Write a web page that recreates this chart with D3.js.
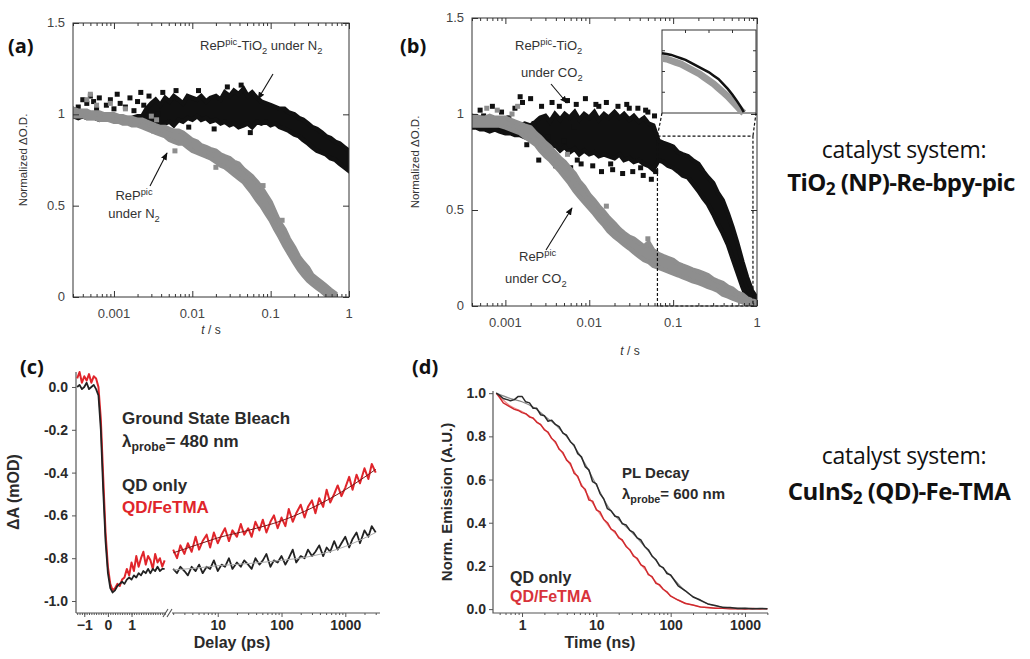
<!DOCTYPE html>
<html>
<head>
<meta charset="utf-8">
<script src="https://cdn.jsdelivr.net/npm/d3@7"></script>
<style>
body { margin: 0; background: #fff; }
svg { display: block; }
</style>
</head>
<body>
<svg width="1030" height="659"></svg>
<script>
// ---- panel (a): [t, low, high] bands ----
var aBlack = [[0.0003,0.99,1.03],[0.00035,0.98,1.02],[0.0004,0.99,1.01],[0.00045,0.98,1.01],[0.0005,0.98,1.0],[0.00057,0.98,1.0],[0.00065,0.97,1.0],[0.00075,0.98,0.99],[0.00085,0.97,0.99],[0.001,0.97,0.99],[0.00115,0.96,0.99],[0.0013,0.96,0.98],[0.0015,0.96,0.98],[0.0017,0.95,0.98],[0.002,0.96,0.99],[0.0023,0.95,0.99],[0.0026,0.95,1.03],[0.003,0.93,1.06],[0.0034,0.94,1.08],[0.0039,0.92,1.05],[0.0045,0.95,1.09],[0.0051,0.96,1.07],[0.0058,0.94,1.1],[0.0067,0.97,1.08],[0.0076,0.96,1.06],[0.0087,0.98,1.1],[0.01,0.97,1.09],[0.0115,0.99,1.08],[0.013,0.97,1.1],[0.015,0.98,1.07],[0.017,0.96,1.09],[0.02,0.97,1.1],[0.023,0.95,1.08],[0.026,0.96,1.12],[0.03,0.94,1.1],[0.034,0.95,1.13],[0.039,0.93,1.11],[0.045,0.94,1.14],[0.051,0.95,1.1],[0.058,0.93,1.12],[0.067,0.96,1.09],[0.076,0.95,1.07],[0.087,0.96,1.06],[0.1,0.94,1.05],[0.115,0.95,1.04],[0.13,0.93,1.03],[0.15,0.92,1.03],[0.17,0.91,1.01],[0.2,0.89,1.0],[0.23,0.88,0.98],[0.26,0.86,0.97],[0.3,0.84,0.95],[0.34,0.82,0.93],[0.39,0.8,0.92],[0.45,0.79,0.9],[0.51,0.78,0.88],[0.58,0.76,0.87],[0.67,0.75,0.85],[0.76,0.73,0.84],[0.87,0.71,0.82],[1.0,0.69,0.8]];
var aBlackDots = [[0.00035,1.04],[0.0004,1.08],[0.00045,1.06],[0.0005,1.1],[0.00055,1.07],[0.0006,1.03],[0.00065,1.09],[0.0008,1.05],[0.0009,1.08],[0.001,1.03],[0.0011,1.11],[0.0012,1.06],[0.0014,1.04],[0.0016,1.09],[0.0018,1.02],[0.002,1.07],[0.0022,1.12],[0.0024,1.05],[0.0026,0.93],[0.0028,1.1],[0.0032,0.91],[0.0036,1.0],[0.0042,1.12],[0.0062,1.13],[0.009,0.93],[0.012,1.13],[0.019,0.92],[0.028,1.15],[0.042,1.16],[0.055,0.9]];
var aGray = [[0.0003,0.99,1.03],[0.00035,0.99,1.02],[0.0004,0.99,1.02],[0.00045,0.98,1.02],[0.0005,0.98,1.01],[0.00057,0.98,1.01],[0.00065,0.97,1.01],[0.00075,0.97,1.0],[0.00085,0.97,1.0],[0.001,0.96,1.0],[0.00115,0.96,0.99],[0.0013,0.95,0.99],[0.0015,0.95,0.98],[0.0017,0.94,0.98],[0.002,0.94,0.97],[0.0023,0.93,0.97],[0.0026,0.92,0.96],[0.003,0.91,0.95],[0.0034,0.9,0.94],[0.0039,0.89,0.93],[0.0045,0.88,0.93],[0.0051,0.86,0.92],[0.0058,0.85,0.91],[0.0067,0.84,0.91],[0.0076,0.84,0.9],[0.0087,0.82,0.88],[0.01,0.8,0.86],[0.0115,0.79,0.85],[0.013,0.78,0.83],[0.015,0.77,0.82],[0.017,0.76,0.81],[0.02,0.74,0.8],[0.023,0.72,0.78],[0.026,0.71,0.77],[0.03,0.69,0.76],[0.034,0.67,0.74],[0.039,0.65,0.73],[0.045,0.63,0.7],[0.051,0.6,0.68],[0.058,0.57,0.66],[0.067,0.53,0.63],[0.076,0.5,0.6],[0.087,0.46,0.56],[0.1,0.42,0.52],[0.115,0.37,0.46],[0.13,0.33,0.41],[0.15,0.28,0.37],[0.17,0.24,0.32],[0.2,0.19,0.27],[0.23,0.15,0.22],[0.26,0.12,0.19],[0.3,0.09,0.16],[0.34,0.07,0.12],[0.39,0.05,0.1],[0.45,0.03,0.08],[0.51,0.01,0.06],[0.58,0.0,0.04],[0.67,0.0,0.02]];
var aGrayDots = [[0.00045,1.08],[0.0005,1.11],[0.0006,1.05],[0.0009,1.06],[0.0014,1.03],[0.003,0.99],[0.0035,0.97],[0.006,0.8],[0.02,0.71],[0.08,0.61],[0.14,0.42]];

// ---- panel (b) ----
var bBlack = [[0.0004,0.93,0.99],[0.00045,0.93,0.98],[0.0005,0.92,0.98],[0.00057,0.92,0.97],[0.00065,0.91,0.97],[0.00075,0.92,0.96],[0.00085,0.91,0.96],[0.001,0.9,0.96],[0.00115,0.9,0.95],[0.0013,0.89,0.95],[0.0015,0.89,0.94],[0.0017,0.88,0.95],[0.002,0.87,0.94],[0.0023,0.86,0.96],[0.0026,0.84,0.98],[0.003,0.83,0.99],[0.0034,0.82,0.96],[0.0039,0.84,1.0],[0.0045,0.81,0.97],[0.0051,0.83,1.0],[0.0058,0.8,0.98],[0.0067,0.82,1.01],[0.0076,0.79,0.97],[0.0087,0.81,1.0],[0.01,0.79,0.98],[0.0115,0.8,1.01],[0.013,0.78,0.97],[0.015,0.79,1.0],[0.017,0.78,0.98],[0.02,0.77,1.01],[0.023,0.79,0.98],[0.026,0.76,1.0],[0.03,0.77,0.97],[0.034,0.75,0.99],[0.039,0.76,0.96],[0.045,0.74,0.98],[0.051,0.73,0.95],[0.058,0.71,0.94],[0.067,0.76,0.86],[0.076,0.75,0.85],[0.087,0.73,0.84],[0.1,0.72,0.83],[0.115,0.7,0.8],[0.13,0.68,0.79],[0.15,0.67,0.78],[0.17,0.64,0.76],[0.2,0.6,0.74],[0.23,0.56,0.7],[0.26,0.53,0.67],[0.3,0.48,0.64],[0.34,0.43,0.59],[0.39,0.38,0.55],[0.45,0.32,0.48],[0.51,0.25,0.41],[0.58,0.18,0.33],[0.67,0.1,0.23],[0.76,0.04,0.15],[0.87,0.0,0.08],[1.0,0.0,0.04]];
var bBlackDots = [[0.0005,1.02],[0.00055,0.99],[0.0007,1.04],[0.0009,1.01],[0.0011,0.98],[0.0013,1.03],[0.0015,1.09],[0.0016,1.06],[0.0018,0.84],[0.002,1.08],[0.0022,0.95],[0.0025,0.76],[0.0027,1.04],[0.0032,0.88],[0.0036,1.06],[0.004,0.73],[0.0044,1.04],[0.005,0.86],[0.0055,1.07],[0.006,0.72],[0.0065,0.93],[0.007,1.05],[0.008,0.74],[0.009,1.08],[0.011,0.73],[0.012,1.05],[0.014,0.7],[0.016,1.06],[0.019,0.71],[0.022,1.04],[0.025,0.69],[0.028,1.05],[0.033,0.7],[0.038,1.03],[0.044,0.68],[0.05,1.01],[0.055,0.66],[0.06,0.99],[0.062,0.7],[0.0042,0.77],[0.0072,0.76],[0.013,1.04],[0.018,0.74],[0.03,1.03],[0.041,0.72],[0.047,1.02]];
var bGray = [[0.0004,0.94,0.99],[0.00045,0.94,0.99],[0.0005,0.94,0.98],[0.00057,0.94,0.98],[0.00065,0.94,0.99],[0.00075,0.94,0.98],[0.00085,0.94,0.98],[0.001,0.93,0.98],[0.00115,0.92,0.97],[0.0013,0.91,0.96],[0.0015,0.9,0.95],[0.0017,0.88,0.94],[0.002,0.86,0.93],[0.0023,0.84,0.9],[0.0026,0.81,0.88],[0.003,0.78,0.85],[0.0034,0.76,0.83],[0.0039,0.73,0.8],[0.0045,0.7,0.77],[0.0051,0.67,0.75],[0.0058,0.64,0.72],[0.0067,0.6,0.69],[0.0076,0.57,0.65],[0.0087,0.54,0.62],[0.01,0.51,0.58],[0.0115,0.48,0.55],[0.013,0.45,0.52],[0.015,0.42,0.49],[0.017,0.39,0.46],[0.02,0.36,0.43],[0.023,0.34,0.4],[0.026,0.32,0.38],[0.03,0.3,0.36],[0.034,0.28,0.35],[0.039,0.26,0.33],[0.045,0.24,0.31],[0.051,0.23,0.33],[0.058,0.21,0.29],[0.067,0.2,0.27],[0.076,0.19,0.26],[0.087,0.18,0.25],[0.1,0.17,0.24],[0.115,0.16,0.22],[0.13,0.15,0.21],[0.15,0.14,0.2],[0.17,0.13,0.19],[0.2,0.12,0.18],[0.23,0.11,0.17],[0.26,0.1,0.16],[0.3,0.09,0.14],[0.34,0.08,0.13],[0.39,0.06,0.12],[0.45,0.05,0.1],[0.51,0.04,0.09],[0.58,0.03,0.07],[0.67,0.02,0.06],[0.76,0.01,0.04],[0.87,0.0,0.03],[1.0,0.0,0.02]];
var bGrayDots = [[0.0006,1.03],[0.0008,1.02],[0.0012,1.0],[0.0014,1.04],[0.0055,0.79],[0.016,0.52],[0.05,0.35]];
// zoom window drawn dashed in (b), and the inset traces (relative units)
var bZoom = { t0: 0.065, t1: 0.895, top: 0.885 };
var insetX = [0,0.05,0.1,0.15,0.2,0.25,0.3,0.35,0.4,0.45,0.5,0.55,0.6,0.65,0.7,0.75,0.8,0.84,0.87];
var insetBlack = [0.72,0.71,0.7,0.68,0.66,0.64,0.61,0.58,0.55,0.52,0.49,0.45,0.41,0.35,0.29,0.22,0.14,0.07,0.01];
var insetGray = [0.66,0.65,0.63,0.61,0.59,0.56,0.53,0.5,0.47,0.43,0.39,0.35,0.3,0.25,0.2,0.14,0.08,0.03,0.0];

// ---- panel (c): linear part (-1.3..2.4 ps) and log part (2..3000 ps) ----
var cLinT = [-1.3,-1.2,-1.1,-1.0,-0.9,-0.8,-0.7,-0.6,-0.5,-0.4,-0.3,-0.2,-0.1,0,0.1,0.2,0.3,0.4,0.5,0.6,0.7,0.8,0.9,1.0,1.1,1.2,1.3,1.4,1.5,1.6,1.7,1.8,1.9,2.0,2.1,2.2,2.3,2.4];
var cLinRed = [0.04,0.07,0.02,0.05,0.03,0.06,0.02,0.05,0.04,0.0,-0.15,-0.42,-0.68,-0.84,-0.92,-0.95,-0.94,-0.92,-0.93,-0.9,-0.89,-0.85,-0.88,-0.82,-0.86,-0.79,-0.84,-0.8,-0.77,-0.83,-0.79,-0.81,-0.85,-0.78,-0.82,-0.8,-0.84,-0.81];
var cLinBlack = [0.0,0.01,-0.01,0.0,0.02,-0.01,0.0,0.01,-0.01,-0.04,-0.2,-0.48,-0.72,-0.87,-0.94,-0.96,-0.95,-0.93,-0.92,-0.91,-0.92,-0.9,-0.89,-0.9,-0.88,-0.89,-0.87,-0.88,-0.86,-0.87,-0.85,-0.87,-0.85,-0.86,-0.84,-0.86,-0.85,-0.85];
var cLogT = [2.0,2.3,2.6,3.0,3.4,3.9,4.5,5.1,5.8,6.7,7.6,8.7,10,11.5,13,15,17,20,23,26,30,34,39,45,51,58,67,76,87,100,115,130,150,170,200,230,260,300,340,390,450,510,580,670,760,870,1000,1150,1300,1500,1700,2000,2300,2600,3000];
var cLogRed = [-0.76,-0.8,-0.74,-0.78,-0.73,-0.77,-0.7,-0.76,-0.72,-0.69,-0.75,-0.68,-0.73,-0.69,-0.66,-0.72,-0.67,-0.7,-0.64,-0.69,-0.66,-0.7,-0.63,-0.67,-0.62,-0.68,-0.63,-0.6,-0.66,-0.61,-0.65,-0.57,-0.63,-0.59,-0.55,-0.61,-0.56,-0.53,-0.59,-0.52,-0.56,-0.48,-0.54,-0.5,-0.46,-0.51,-0.47,-0.42,-0.48,-0.41,-0.45,-0.38,-0.43,-0.36,-0.4];
var cLogBlack = [-0.85,-0.87,-0.84,-0.86,-0.88,-0.84,-0.86,-0.83,-0.87,-0.84,-0.85,-0.81,-0.86,-0.83,-0.84,-0.8,-0.85,-0.82,-0.84,-0.81,-0.83,-0.85,-0.8,-0.83,-0.81,-0.78,-0.84,-0.81,-0.82,-0.79,-0.83,-0.8,-0.76,-0.82,-0.79,-0.8,-0.76,-0.79,-0.77,-0.74,-0.79,-0.75,-0.77,-0.72,-0.76,-0.73,-0.7,-0.75,-0.71,-0.68,-0.73,-0.67,-0.7,-0.65,-0.68];
var cFitT = [2,5,10,30,100,300,1000,3000];
var cFitRed = [-0.775,-0.735,-0.705,-0.67,-0.625,-0.565,-0.48,-0.385];
var cFitBlack = [-0.855,-0.845,-0.835,-0.825,-0.81,-0.79,-0.745,-0.68];

// ---- panel (d) ----
var dT = [0.45,0.5,0.56,0.63,0.7,0.79,0.89,1,1.12,1.26,1.41,1.58,1.78,2,2.24,2.51,2.82,3.16,3.55,3.98,4.47,5.01,5.62,6.31,7.08,7.94,8.91,10,11.2,12.6,14.1,15.8,17.8,20,22.4,25.1,28.2,31.6,35.5,39.8,44.7,50.1,56.2,63.1,70.8,79.4,89.1,100,126,158,200,251,316,398,501,631,794,1000,1259,1585,2000];
var dBlack = [1.0,0.99,0.975,0.97,0.965,0.97,0.985,0.985,0.96,0.955,0.93,0.93,0.9,0.895,0.87,0.875,0.855,0.845,0.815,0.805,0.775,0.76,0.72,0.705,0.66,0.645,0.59,0.58,0.535,0.51,0.465,0.455,0.43,0.425,0.395,0.39,0.365,0.355,0.33,0.32,0.29,0.275,0.245,0.23,0.2,0.192,0.165,0.158,0.108,0.085,0.056,0.042,0.024,0.017,0.008,0.007,0.003,0.004,0.002,0.003,0.002];
var dRed = [1.0,0.98,0.955,0.945,0.935,0.925,0.92,0.91,0.905,0.89,0.885,0.865,0.855,0.83,0.82,0.79,0.775,0.74,0.725,0.69,0.675,0.63,0.615,0.57,0.555,0.505,0.5,0.46,0.45,0.415,0.4,0.37,0.36,0.33,0.32,0.29,0.275,0.245,0.235,0.205,0.195,0.16,0.15,0.12,0.113,0.092,0.08,0.06,0.042,0.026,0.019,0.01,0.008,0.004,0.004,0.002,0.003,0.001,0.003,0.001,0.002];
var dFitT = [0.45,0.7,1,1.5,2,3,5,7,10,15,20,30,50,70,100,150,200,300,500,1000,2000];
var dFitBlack = [1.0,0.975,0.96,0.93,0.895,0.845,0.755,0.675,0.575,0.465,0.415,0.355,0.27,0.207,0.155,0.09,0.058,0.027,0.009,0.003,0.002];
var dFitRed = [1.0,0.94,0.915,0.875,0.835,0.755,0.64,0.55,0.465,0.38,0.335,0.26,0.165,0.11,0.062,0.03,0.018,0.007,0.003,0.002,0.002];

var RED = "#e0252b", GRAY = "#8e8e8e", INK = "#111";
var svg = d3.select("svg");
svg.append("rect").attr("width", 1030).attr("height", 659).attr("fill", "#fff");

var defs = svg.append("defs");
defs.append("marker").attr("id", "head")
    .attr("viewBox", "0 0 10 10").attr("refX", 9).attr("refY", 5)
    .attr("markerWidth", 7).attr("markerHeight", 7).attr("orient", "auto")
    .append("path").attr("d", "M0,1 L10,5 L0,9 Z").attr("fill", "#111");

function isDecade(v) { var l = Math.log10(v); return Math.abs(l - Math.round(l)) < 1e-6; }

// text with sub/superscript pieces: ["ReP", ["pic","sup"], "-TiO", ["2","sub"]]
function rich(g, x, y, parts) {
    var t = g.append("text").attr("x", x).attr("y", y), shift = 0;
    parts.forEach(function (p) {
        var str = typeof p === "string" ? p : p[0], kind = typeof p === "string" ? null : p[1];
        var target = kind === "sup" ? -5 : kind === "sub" ? 4 : 0;
        var ts = t.append("tspan").attr("dy", target - shift).text(str);
        if (kind) ts.attr("font-size", "0.72em");
        shift = target;
    });
    return t;
}

function arrow(g, x1, y1, x2, y2) {
    g.append("line").attr("x1", x1).attr("y1", y1).attr("x2", x2).attr("y2", y2)
        .attr("stroke", "#111").attr("stroke-width", 1.1).attr("marker-end", "url(#head)");
}

// ---------- boxed log panels (a) and (b) ----------
function boxPanel(id, x, y, opt) {
    var g = svg.append("g").attr("font-family", "'Liberation Sans', Arial, sans-serif").attr("fill", "#333");
    var xr = x.range(), yr = y.range();
    defs.append("clipPath").attr("id", "clip" + id).append("rect")
        .attr("x", xr[0]).attr("y", yr[1]).attr("width", xr[1] - xr[0]).attr("height", yr[0] - yr[1]);
    var plot = g.append("g").attr("clip-path", "url(#clip" + id + ")");

    // the scatter band: area between low and high, widened by the marker size
    function band(data, color) {
        var area = d3.area().x(function (d) { return x(d[0]); })
            .y0(function (d) { return y(d[1]); }).y1(function (d) { return y(d[2]); });
        plot.append("path").attr("d", area(data)).attr("fill", color)
            .attr("stroke", color).attr("stroke-width", 4.5).attr("stroke-linejoin", "miter");
    }
    function dots(data, color) {
        plot.append("g").selectAll("rect").data(data).join("rect")
            .attr("x", function (d) { return x(d[0]) - 2.5; }).attr("y", function (d) { return y(d[1]) - 2.5; })
            .attr("width", 5).attr("height", 5).attr("fill", color);
    }
    opt.draw(band, dots, plot);

    var all = x.ticks(), major = all.filter(isDecade), minor = all.filter(function (v) { return !isDecade(v); });
    [[d3.axisBottom, yr[0]], [d3.axisTop, yr[1]]].forEach(function (a) {
        var mk = function (vals, len) {
            var ax = g.append("g").attr("transform", "translate(0," + a[1] + ")")
                .call(a[0](x).tickValues(vals).tickSize(-len).tickFormat(""));
            ax.select(".domain").remove();
            ax.selectAll("line").attr("stroke", "#333");
        };
        mk(major, 6); mk(minor, 3);
    });
    [[d3.axisLeft, xr[0]], [d3.axisRight, xr[1]]].forEach(function (a) {
        var ax = g.append("g").attr("transform", "translate(" + a[1] + ",0)")
            .call(a[0](y).tickValues([0, 0.5, 1, 1.5]).tickSize(-6).tickFormat(""));
        ax.select(".domain").remove();
        ax.selectAll("line").attr("stroke", "#333");
    });
    g.append("rect").attr("x", xr[0]).attr("y", yr[1]).attr("width", xr[1] - xr[0]).attr("height", yr[0] - yr[1])
        .attr("fill", "none").attr("stroke", "#333").attr("stroke-width", 1);

    // tick labels
    g.append("g").attr("font-size", 13).attr("fill", "#444").attr("text-anchor", "middle").selectAll("text").data(major).join("text")
        .attr("x", function (d) { return x(d); }).attr("y", yr[0] + 21).text(function (d) { return String(d); });
    g.append("g").attr("font-size", 13).attr("fill", "#444").attr("text-anchor", "end").selectAll("text").data([0, 0.5, 1, 1.5]).join("text")
        .attr("x", xr[0] - 8).attr("y", function (d) { return y(d) + 4; }).text(function (d) { return String(d); });

    g.append("text").attr("transform", "translate(" + opt.ylabX + "," + ((yr[0] + yr[1]) / 2) + ") rotate(-90)")
        .attr("text-anchor", "middle").attr("font-size", 11.5).text("Normalized  \u0394O.D.");
    var ts = g.append("text").attr("x", opt.tsX).attr("y", opt.tsY).attr("text-anchor", "middle").attr("font-size", 12);
    ts.append("tspan").attr("font-style", "italic").text("t");
    ts.append("tspan").text(" / s");

    svg.append("text").attr("x", opt.letterX).attr("y", 53).attr("font-family", "'Open Sans', sans-serif")
        .attr("font-weight", 700).attr("font-size", 20).attr("fill", "#111").text(opt.letter);
    return g;
}

// (a)
var xA = d3.scaleLog().domain([0.0003, 1]).range([73, 349]);
var yA = d3.scaleLinear().domain([0, 1.5]).range([297, 23]);
var gA = boxPanel("A", xA, yA, {
    letter: "(a)", letterX: 8, ylabX: 27, tsX: 211, tsY: 334,
    draw: function (band, dots) {
        band(aBlack, INK); dots(aBlackDots, INK);
        band(aGray, GRAY); dots(aGrayDots, GRAY);
    }
});
var labA = gA.append("g").attr("font-size", 13).attr("fill", "#333");
rich(labA, 200, 50, ["ReP", ["pic", "sup"], "-TiO", ["2", "sub"], " under N", ["2", "sub"]]);
arrow(labA, 273, 74, 258, 99);
rich(labA, 134, 200, ["ReP", ["pic", "sup"]]).attr("text-anchor", "middle");
rich(labA, 134, 218, ["under N", ["2", "sub"]]).attr("text-anchor", "middle");
arrow(labA, 150, 186, 167, 153);

// (b)
var xB = d3.scaleLog().domain([0.0004, 1]).range([472, 757]);
var yB = d3.scaleLinear().domain([0, 1.5]).range([306, 18]);
var gB = boxPanel("B", xB, yB, {
    letter: "(b)", letterX: 400, ylabX: 419, tsX: 630, tsY: 355,
    draw: function (band, dots) {
        band(bBlack, INK); dots(bBlackDots, INK);
        band(bGray, GRAY); dots(bGrayDots, GRAY);
    }
});
var labB = gB.append("g").attr("font-size", 13).attr("fill", "#333");
rich(labB, 515, 50, ["ReP", ["pic", "sup"], "-TiO", ["2", "sub"]]);
rich(labB, 521, 77, ["under CO", ["2", "sub"]]);
arrow(labB, 551, 84, 567, 103);
rich(labB, 519, 261, ["ReP", ["pic", "sup"]]);
rich(labB, 505, 283, ["under CO", ["2", "sub"]]);
arrow(labB, 546, 250, 572, 208);

// dashed zoom window + connectors
var dash = gB.append("g").attr("fill", "none").attr("stroke", "#111").attr("stroke-width", 1.2).attr("stroke-dasharray", "3,2");
var zx0 = xB(bZoom.t0), zx1 = xB(bZoom.t1), zy = yB(bZoom.top), zb = yB(0);
dash.append("path").attr("d", "M" + zx0 + "," + zb + "V" + zy + "H" + zx1 + "V" + zb + "H" + zx0);
var inset = { x0: 662, x1: 756, y0: 30, y1: 113 };
dash.append("path").attr("d", "M" + inset.x0 + "," + inset.y1 + "L" + zx0 + "," + zy);
dash.append("path").attr("d", "M" + inset.x1 + "," + inset.y1 + "Q" + (zx1 + 2) + "," + (inset.y1 + 8) + " " + zx1 + "," + zy);

// inset
var ix = d3.scaleLinear().domain([0, 1]).range([inset.x0, inset.x1]);
var iy = d3.scaleLinear().domain([0, 1]).range([inset.y1, inset.y0]);
var ig = gB.append("g");
ig.append("rect").attr("x", inset.x0).attr("y", inset.y0).attr("width", inset.x1 - inset.x0).attr("height", inset.y1 - inset.y0)
    .attr("fill", "#fff").attr("stroke", "#333");
var iline = function (vals) { return d3.line().x(function (d, i) { return ix(insetX[i]); }).y(function (d) { return iy(d); })(vals); };
ig.append("path").attr("d", iline(insetGray)).attr("fill", "none").attr("stroke", "#9a9a9a").attr("stroke-width", 7);
ig.append("path").attr("d", iline(insetBlack)).attr("fill", "none").attr("stroke", "#111").attr("stroke-width", 2.5);
[0.25, 0.5, 0.75].forEach(function (f) {
    ig.append("line").attr("x1", inset.x0).attr("x2", inset.x0 + 3).attr("y1", iy(f)).attr("y2", iy(f)).attr("stroke", "#333");
    ig.append("line").attr("x1", inset.x1).attr("x2", inset.x1 - 3).attr("y1", iy(f)).attr("y2", iy(f)).attr("stroke", "#333");
    ig.append("line").attr("x1", ix(f)).attr("x2", ix(f)).attr("y1", inset.y0).attr("y2", inset.y0 + 3).attr("stroke", "#333");
});

// ---------- panel (c) ----------
var gC = svg.append("g").attr("font-family", "'Liberation Sans', Arial, sans-serif").attr("font-weight", 700).attr("fill", "#2a2a2a");
var xCl = d3.scaleLinear().domain([-1.35, 2.5]).range([76, 167]);
var xCg = d3.scaleLog().domain([1.85, 3500]).range([171, 380]);
var yC = d3.scaleLinear().domain([-1.056, 0.07]).range([613, 372]);
var AX = "#555";

var yAxC = gC.append("g").attr("transform", "translate(76,0)")
    .call(d3.axisLeft(yC).tickValues([0, -0.2, -0.4, -0.6, -0.8, -1.0]).tickSize(4).tickPadding(4)
        .tickFormat(function (d) { return d.toFixed(1); }));
yAxC.select(".domain").remove();
yAxC.selectAll("line").attr("stroke", AX);
yAxC.selectAll("text").attr("font-size", 14).attr("font-family", "inherit").attr("fill", "#2a2a2a");
gC.append("line").attr("x1", 76).attr("x2", 76).attr("y1", 372).attr("y2", 613).attr("stroke", AX).attr("stroke-width", 1.2);

function plainAxis(g, axis, ty) {
    var a = g.append("g").attr("transform", "translate(0," + ty + ")").call(axis);
    a.select(".domain").remove();
    a.selectAll("line").attr("stroke", AX);
    a.selectAll("text").attr("font-size", 14).attr("font-family", "inherit").attr("fill", "#2a2a2a");
    return a;
}
plainAxis(gC, d3.axisBottom(xCl).tickValues(d3.range(-1.3, 2.45, 0.1)).tickSize(2).tickFormat(""), 613);
plainAxis(gC, d3.axisBottom(xCl).tickValues([-1, 0, 1]).tickSize(4).tickPadding(3).tickFormat(d3.format("d")), 613);
var cLogTicks = xCg.ticks();
plainAxis(gC, d3.axisBottom(xCg).tickValues(cLogTicks.filter(function (v) { return !isDecade(v); })).tickSize(2).tickFormat(""), 613);
plainAxis(gC, d3.axisBottom(xCg).tickValues(cLogTicks.filter(isDecade)).tickSize(4).tickPadding(3).tickFormat(d3.format("d")), 613);
gC.append("line").attr("x1", 76).attr("x2", 166).attr("y1", 613).attr("y2", 613).attr("stroke", AX).attr("stroke-width", 1.2);
gC.append("line").attr("x1", 172).attr("x2", 380).attr("y1", 613).attr("y2", 613).attr("stroke", AX).attr("stroke-width", 1.2);
gC.append("path").attr("d", "M163,617 L168,609 M167,617 L172,609").attr("stroke", AX).attr("stroke-width", 1.1);

var lineLin = function (ys) { return d3.line().x(function (d, i) { return xCl(cLinT[i]); }).y(function (d) { return yC(d); })(ys); };
var lineLog = function (ts, ys, curve) { return d3.line().curve(curve || d3.curveLinear).x(function (d, i) { return xCg(ts[i]); }).y(function (d) { return yC(d); })(ys); };
var traces = gC.append("g").attr("fill", "none").attr("stroke-linejoin", "round");
traces.append("path").attr("d", lineLin(cLinRed)).attr("stroke", RED).attr("stroke-width", 2);
traces.append("path").attr("d", lineLog(cLogT, cLogRed)).attr("stroke", RED).attr("stroke-width", 2);
traces.append("path").attr("d", lineLin(cLinBlack)).attr("stroke", "#222").attr("stroke-width", 1.8);
traces.append("path").attr("d", lineLog(cLogT, cLogBlack)).attr("stroke", "#222").attr("stroke-width", 1.8);
traces.append("path").attr("d", lineLog(cFitT, cFitRed, d3.curveMonotoneX)).attr("stroke", "#7a1414").attr("stroke-width", 1);
traces.append("path").attr("d", lineLog(cFitT, cFitBlack, d3.curveMonotoneX)).attr("stroke", "#aaa").attr("stroke-width", 1);

gC.append("text").attr("transform", "translate(19,492) rotate(-90)").attr("text-anchor", "middle").attr("font-size", 16).text("\u0394A (mOD)");
gC.append("text").attr("x", 232).attr("y", 648).attr("text-anchor", "middle").attr("font-size", 16).text("Delay (ps)");
gC.append("text").attr("x", 122).attr("y", 424).attr("font-size", 17).text("Ground State Bleach");
rich(gC, 122, 447, ["\u03bb", ["probe", "sub"], "= 480 nm"]).attr("font-size", 17);
gC.append("text").attr("x", 122).attr("y", 491).attr("font-size", 17).text("QD only");
gC.append("text").attr("x", 122).attr("y", 513).attr("font-size", 17).attr("fill", RED).text("QD/FeTMA");
svg.append("text").attr("x", 20).attr("y", 374).attr("font-family", "'Open Sans', sans-serif")
    .attr("font-weight", 700).attr("font-size", 20).attr("fill", "#111").text("(c)");

// ---------- panel (d) ----------
var gD = svg.append("g").attr("font-family", "'Liberation Sans', Arial, sans-serif").attr("font-weight", 700).attr("fill", "#2a2a2a");
var xD = d3.scaleLog().domain([0.407, 2040]).range([493, 768]);
var yD = d3.scaleLinear().domain([-0.018, 1.01]).range([613, 391]);
var yAxD = gD.append("g").attr("transform", "translate(493,0)")
    .call(d3.axisLeft(yD).tickValues([0, 0.2, 0.4, 0.6, 0.8, 1.0]).tickSize(4).tickPadding(3)
        .tickFormat(function (d) { return d.toFixed(1); }));
yAxD.select(".domain").remove();
yAxD.selectAll("line").attr("stroke", AX);
yAxD.selectAll("text").attr("font-size", 14).attr("font-family", "inherit").attr("fill", "#2a2a2a");
var dTicks = xD.ticks();
plainAxis(gD, d3.axisBottom(xD).tickValues(dTicks.filter(function (v) { return !isDecade(v); })).tickSize(2).tickFormat(""), 613);
plainAxis(gD, d3.axisBottom(xD).tickValues(dTicks.filter(isDecade)).tickSize(4).tickPadding(3).tickFormat(d3.format("d")), 613);
gD.append("path").attr("d", "M493,391 V613 H768").attr("fill", "none").attr("stroke", AX).attr("stroke-width", 1.2);

var lineD = function (ts, ys, curve) { return d3.line().curve(curve || d3.curveLinear).x(function (d, i) { return xD(ts[i]); }).y(function (d) { return yD(d); })(ys); };
var tr = gD.append("g").attr("fill", "none").attr("stroke-linejoin", "round");
tr.append("path").attr("d", lineD(dFitT, dFitRed, d3.curveMonotoneX)).attr("stroke", "#e88").attr("stroke-width", 1.2);
tr.append("path").attr("d", lineD(dT, dRed)).attr("stroke", "#cf2a2e").attr("stroke-width", 1.5);
tr.append("path").attr("d", lineD(dFitT, dFitBlack, d3.curveMonotoneX)).attr("stroke", "#888").attr("stroke-width", 1.2);
tr.append("path").attr("d", lineD(dT, dBlack)).attr("stroke", "#2a2a2a").attr("stroke-width", 1.5);

gD.append("text").attr("transform", "translate(452,502) rotate(-90)").attr("text-anchor", "middle").attr("font-size", 15).text("Norm. Emission (A.U.)");
gD.append("text").attr("x", 600).attr("y", 648).attr("text-anchor", "middle").attr("font-size", 16).text("Time (ns)");
gD.append("text").attr("x", 622).attr("y", 478).attr("font-size", 15).text("PL Decay");
rich(gD, 622, 499, ["\u03bb", ["probe", "sub"], "= 600 nm"]).attr("font-size", 15);
gD.append("text").attr("x", 510).attr("y", 583).attr("font-size", 16).text("QD only");
gD.append("text").attr("x", 510).attr("y", 602).attr("font-size", 16).attr("fill", "#d8333a").text("QD/FeTMA");
svg.append("text").attr("x", 412).attr("y", 374).attr("font-family", "'Open Sans', sans-serif")
    .attr("font-weight", 700).attr("font-size", 20).attr("fill", "#111").text("(d)");

// ---------- side notes ----------
var side = svg.append("g").attr("font-family", "'Open Sans', sans-serif").attr("text-anchor", "middle").attr("fill", "#111");
side.append("text").attr("x", 904).attr("y", 158).attr("font-size", 23).attr("letter-spacing", -0.3).text("catalyst system:");
rich(side, 901, 191, ["TiO", ["2", "sub"], " (NP)-Re-bpy-pic"]).attr("font-size", 24).attr("font-weight", 700).attr("letter-spacing", -0.6);
side.append("text").attr("x", 904).attr("y", 464).attr("font-size", 23).attr("letter-spacing", -0.3).text("catalyst system:");
rich(side, 899, 500, ["CuInS", ["2", "sub"], " (QD)-Fe-TMA"]).attr("font-size", 24).attr("font-weight", 700).attr("letter-spacing", -0.6);
</script>
</body>
</html>
